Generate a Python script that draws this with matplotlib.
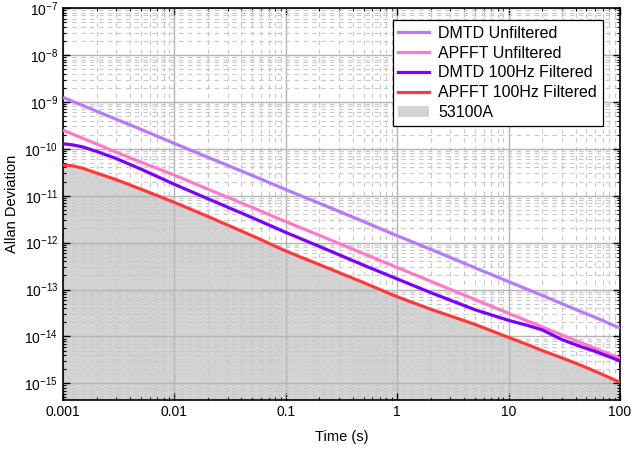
import numpy as np
import matplotlib
matplotlib.use('Agg')
import matplotlib.pyplot as plt
from matplotlib.ticker import LogLocator, FuncFormatter, NullFormatter, FixedLocator
from matplotlib.patches import Patch
from matplotlib.lines import Line2D

plt.rcParams['font.family'] = ['Liberation Sans', 'DejaVu Sans']
plt.rcParams['font.size'] = 10

# averaging time (s)
tau = [0.001, 0.0012, 0.0015, 0.002, 0.003, 0.005, 0.01, 0.02, 0.05, 0.1, 0.2, 0.5,
       1, 2, 5, 10, 15, 20, 30, 45, 60, 100]

dmtd_unf = [1.25e-9, 1.045e-9, 8.4e-10, 6.35e-10, 4.27e-10, 2.6e-10, 1.3e-10, 6.6e-11, 2.7e-11, 1.35e-11, 6.9e-12, 2.8e-12,
            1.4e-12, 7.2e-13, 2.9e-13, 1.47e-13, 9.9e-14, 7.5e-14, 5.0e-14, 3.35e-14, 2.55e-14, 1.5e-14]
apfft_unf = [2.5e-10, 2.09e-10, 1.68e-10, 1.27e-10, 8.5e-11, 5.2e-11, 2.75e-11, 1.38e-11, 5.6e-12, 2.8e-12, 1.43e-12, 5.8e-13,
             2.95e-13, 1.5e-13, 6.1e-14, 3.1e-14, 2.1e-14, 1.6e-14, 1.08e-14, 7.3e-15, 5.5e-15, 3.4e-15]
dmtd_filt = [1.28e-10, 1.22e-10, 1.1e-10, 8.8e-11, 6.2e-11, 3.7e-11, 1.75e-11, 8.6e-12, 3.4e-12, 1.65e-12, 8.3e-13, 3.3e-13,
             1.68e-13, 8.6e-14, 3.7e-14, 2.2e-14, 1.7e-14, 1.38e-14, 8.6e-15, 6.0e-15, 4.8e-15, 3.0e-15]
apfft_filt = [4.5e-11, 4.35e-11, 3.85e-11, 3.05e-11, 2.2e-11, 1.38e-11, 7.2e-12, 3.6e-12, 1.4e-12, 6.6e-13, 3.4e-13, 1.4e-13,
              7.0e-14, 3.8e-14, 1.8e-14, 9.5e-15, 6.6e-15, 5.0e-15, 3.5e-15, 2.4e-15, 1.8e-15, 1.05e-15]
hp53100a = [4.1e-11, 3.95e-11, 3.55e-11, 2.95e-11, 2.1e-11, 1.33e-11, 7.0e-12, 3.5e-12, 1.36e-12, 6.4e-13, 3.3e-13, 1.36e-13,
            6.8e-14, 3.7e-14, 1.75e-14, 9.2e-15, 6.4e-15, 4.85e-15, 3.4e-15, 2.3e-15, 1.75e-15, 1.0e-15]

labels = ['DMTD Unfiltered', 'APFFT Unfiltered', 'DMTD 100Hz Filtered', 'APFFT 100Hz Filtered', '53100A']
colors = ['#b57cfa', '#ff7ac8', '#7a00ff', '#ff3b3b', '#d3d3d3']

fig = plt.figure(figsize=(6.32, 4.5), dpi=100)
ax = fig.add_axes([0.0997, 0.111, 0.8813, 0.871])

ax.fill_between(tau, 1e-20, hp53100a, color=colors[4], lw=0, zorder=0.2)
for y, c in zip([dmtd_unf, apfft_unf, dmtd_filt, apfft_filt], colors[:4]):
    ax.plot(tau, y, color=c, lw=2.3, zorder=3, solid_capstyle='butt', solid_joinstyle='round')

ax.set_xscale('log')
ax.set_yscale('log')
ax.set_xlim(0.001, 100)
ax.set_ylim(4.4e-16, 1e-7)

# decade ticks only inside the visible range
ax.yaxis.set_major_locator(FixedLocator([10.0 ** k for k in range(-15, -6)]))
ax.yaxis.set_minor_locator(LogLocator(base=10, subs=np.arange(2, 10), numticks=20))
ax.yaxis.set_minor_formatter(NullFormatter())
ax.xaxis.set_major_locator(FixedLocator([10.0 ** k for k in range(-3, 3)]))
ax.xaxis.set_minor_locator(LogLocator(base=10, subs=np.arange(2, 10), numticks=20))
ax.xaxis.set_major_formatter(FuncFormatter(lambda v, p: '%g' % v))
ax.xaxis.set_minor_formatter(NullFormatter())

ax.set_axisbelow(True)
ax.grid(which='major', color='#b4b4b4', lw=1.0, ls='-')
ax.grid(which='minor', color='#c8c8c8', lw=0.8, ls=(0, (4, 4)))

ax.tick_params(which='both', direction='in', top=True, right=True, colors='black')
ax.tick_params(which='major', length=5, width=1, labelsize=10)
ax.tick_params(which='minor', length=2.5, width=0.8)
for s in ax.spines.values():
    s.set_linewidth(1.2)

ax.set_xlabel('Time (s)', fontsize=10.5, labelpad=8)
ax.set_ylabel('Allan Deviation', fontsize=10.5)

handles = [Line2D([], [], color=c, lw=2.3) for c in colors[:4]]
handles.append(Patch(facecolor=colors[4], edgecolor='none'))
leg = ax.legend(handles, labels, loc='upper right', bbox_to_anchor=(0.969, 0.969),
                fancybox=False, framealpha=1, edgecolor='black', fontsize=11.5,
                handlelength=1.9, borderpad=0.35, labelspacing=0.3, handletextpad=0.6,
                borderaxespad=0.0)
leg.get_frame().set_linewidth(0.9)

fig.savefig('out.png', dpi=100)
